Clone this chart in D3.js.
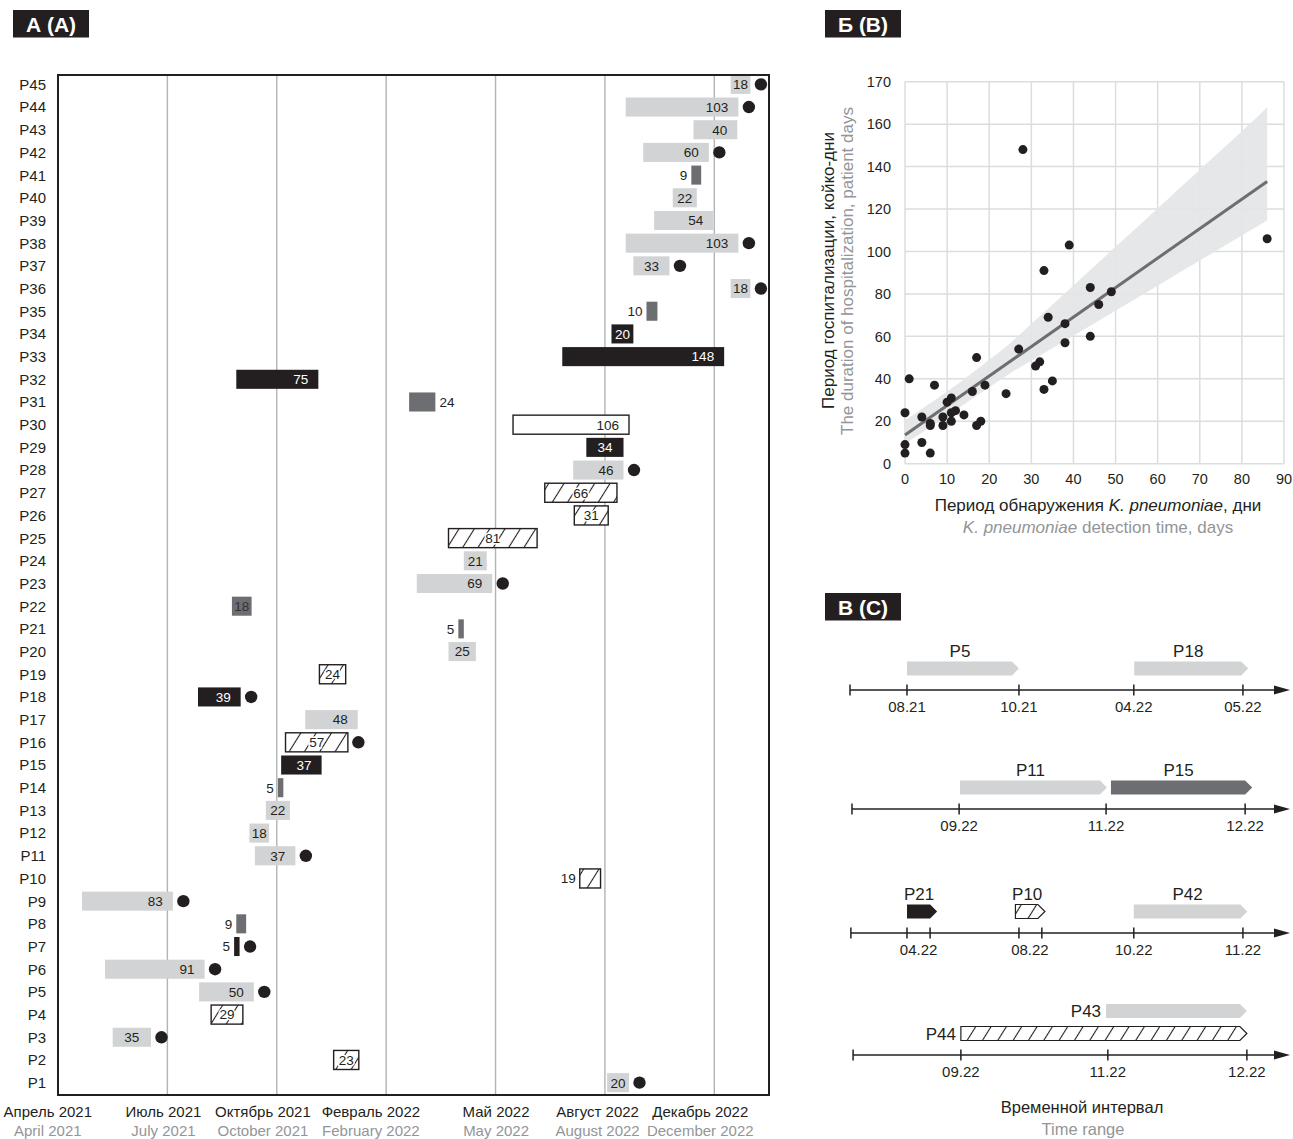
<!DOCTYPE html>
<html><head><meta charset="utf-8">
<script src="https://cdn.jsdelivr.net/npm/d3@7"></script>
<style>
body{margin:0;background:#fff;}
svg{display:block;font-family:"Liberation Sans",Arial,Helvetica,sans-serif;}
</style></head><body>
<svg id="chart" width="1293" height="1139"></svg>
<script>
// ---------- Panel A data ----------
const patients = d3.range(1, 46).map(i => "P" + i);
const startDay = [502,252,50,140,129,43,161,163,22,477,180,175,190,201,204,208,226,128,239,357,366,159,328,371,357,472,445,471,483,416,321,163,461,506,538,615,526,519,545,562,579,535,581,519,615];
const hospDays = [20,23,35,29,50,91,5,9,83,19,37,18,22,5,37,57,48,39,24,25,5,18,69,21,81,31,66,46,34,106,24,75,148,20,10,18,33,103,54,22,9,60,40,103,18];
const barType = ["light","hatch","light","hatch","light","light","black","dark","light","hatch","light","light","light","dark","black","hatch","light","black","hatch","light","dark","dark","light","light","hatch","hatch","hatch","light","black","white","dark","black","black","black","dark","light","light","light","light","light","dark","light","light","light","light"];
const died = [1,0,1,0,1,1,1,0,1,0,1,0,0,0,0,1,0,1,0,0,0,0,1,0,0,0,0,1,0,0,0,0,0,0,0,1,1,1,0,0,0,1,0,1,1];
const timeTickDays = [0,100,200,300,400,500,600];
const timeTickRu = ["Апрель 2021","Июль 2021","Октябрь 2021","Февраль 2022","Май 2022","Август 2022","Декабрь 2022"];
const timeTickEn = ["April 2021","July 2021","October 2021","February 2022","May 2022","August 2022","December 2022"];

// ---------- Panel B data ----------
const detectDays = [28,86,39,33,44,49,46,34,38,44,38,27,17,32,31,1,35,7,19,33,16,24,11,10,0,12,11,14,4,9,6,6,9,11,17,18,0,4,0,6];
const stayDays   = [148,106,103,91,83,81,75,69,66,60,57,54,50,48,46,40,39,37,37,35,34,33,31,29,24,25,24,23,22,22,19,18,18,20,18,20,9,10,5,5];
const fitX = [0,86];
const fitY = [13.5,133];
const bandX = [0,10,20,25,30,40,50,60,70,80,86];
const bandUpper = [20.5,34,49,56.8,65.9,84,102.2,120.3,138.5,156.6,168];
const bandLower = [9.5,22.5,36,42.6,48.5,60.3,72.1,83.9,95.7,107.5,114.6];
const scatterXTicks = [0,10,20,30,40,50,60,70,80,90];
const scatterYTicks = [0,20,40,60,80,100,120,140,160,180];
const scatterYTickLabels = ["0","20","40","60","80","100","120","140","160","170"];

// ---------- Panel C data (schematic time units 0..100) ----------
const cTicks = [[0,12.95,38.4,64.5,89.3],[0.45,24.8,58.2,89.8],[0.2,12.95,18.2,38.4,43.6,64.5,89.3],[0.7,25.2,58.6,90.2]];
const cTickLabels = [["08.21","10.21","04.22","05.22"],["09.22","11.22","12.22"],["04.22","08.22","10.22","11.22"],["09.22","11.22","12.22"]];
const cTickLabelPos = [[12.95,38.4,64.5,89.3],[24.8,58.2,89.8],[15.6,40.9,64.5,89.3],[25.2,58.6,90.2]];
const cBarPatient = ["P5","P18","P11","P15","P21","P10","P42","P44","P43"];
const cBarRow   = [0,0,1,1,2,2,2,3,3];
const cBarLane  = [0,0,0,0,0,0,0,0,1];
const cBarStart = [12.95,64.6,25,59.3,12.95,37.6,64.5,25.2,58.2];
const cBarEnd   = [38.4,90.5,58.4,91.4,19.8,44.3,90.3,90.2,90.2];
const cBarType  = ["light","light","light","dark","black","hatch","light","hatch","light"];

// ---------- styles ----------
const INK = "#231f20", GRAY = "#939598", LIGHT = "#d1d3d4", DARK = "#6d6e71";
const fillFor = {light: LIGHT, dark: DARK, black: INK, hatch: "url(#hatch)", white: "#fff"};
const outsideLeft = ["P7","P8","P10","P14","P21","P35","P41"];
const outsideRight = ["P31"];

const svg = d3.select("#chart");
const defs = svg.append("defs");
const pat = defs.append("pattern").attr("id","hatch").attr("patternUnits","userSpaceOnUse")
  .attr("width",13).attr("height",13).attr("patternTransform","rotate(32)");
pat.append("rect").attr("width",13).attr("height",13).attr("fill","#fff");
pat.append("line").attr("x1",6.5).attr("x2",6.5).attr("y1",-1).attr("y2",14).attr("stroke",INK).attr("stroke-width",1.1);

function titleBox(x, y, label) {
  svg.append("rect").attr("x",x).attr("y",y).attr("width",76).attr("height",27.5).attr("fill",INK);
  svg.append("text").attr("x",x+38).attr("y",y+22).attr("text-anchor","middle")
    .attr("fill","#fff").attr("font-weight","bold").attr("font-size",21).text(label);
}
titleBox(13,10,"А (A)");
titleBox(825,10,"Б (B)");
titleBox(825,593,"В (C)");

// ================= Panel A =================
const xA = d3.scaleLinear().domain([0,650]).range([58,769]);
const yA = d3.scaleBand().domain(patients.slice().reverse()).range([73,1094]).paddingInner(0.16).paddingOuter(0.08);
const gA = svg.append("g");
gA.append("g").selectAll("line").data(timeTickDays.slice(1)).join("line")
  .attr("x1",d=>xA(d)).attr("x2",d=>xA(d)).attr("y1",75).attr("y2",1095)
  .attr("stroke","#b1b3b6").attr("stroke-width",1.4);

const rows = patients.map((p,i)=>({p, s:startDay[i], d:hospDays[i], t:barType[i], died:died[i]}));
gA.append("g").selectAll("rect").data(rows).join("rect")
  .attr("x",r=>xA(r.s)).attr("y",r=>yA(r.p))
  .attr("width",r=>xA(r.s+r.d)-xA(r.s)).attr("height",yA.bandwidth())
  .attr("fill",r=>fillFor[r.t])
  .attr("stroke",r=>(r.t==="hatch"||r.t==="white")?INK:"none").attr("stroke-width",1.4);

gA.append("g").selectAll("circle").data(rows.filter(r=>r.died)).join("circle")
  .attr("cx",r=>xA(r.s+r.d)+10.5).attr("cy",r=>yA(r.p)+yA.bandwidth()/2).attr("r",6.2).attr("fill",INK);

const gLab = gA.append("g").attr("font-size",13.5);
rows.forEach(r=>{
  const x0 = xA(r.s), x1 = xA(r.s+r.d), cy = yA(r.p)+yA.bandwidth()/2;
  const t = gLab.append("text").attr("y",cy).attr("dy","0.36em").text(r.d);
  if (outsideLeft.includes(r.p)) {
    t.attr("x",x0-4).attr("text-anchor","end").attr("fill",INK);
  } else if (outsideRight.includes(r.p)) {
    t.attr("x",x1+4).attr("text-anchor","start").attr("fill",INK);
  } else if (r.t==="hatch") {
    t.attr("x",(x0+x1)/2).attr("text-anchor","middle").attr("fill",INK)
     .attr("stroke","#fff").attr("stroke-width",3).attr("paint-order","stroke");
  } else {
    const tw = t.node().getComputedTextLength();
    if (x1-x0 > tw+24) t.attr("x",x1-10).attr("text-anchor","end");
    else t.attr("x",(x0+x1)/2).attr("text-anchor","middle");
    t.attr("fill", r.t==="black" ? "#fff" : (r.t==="dark" ? "#333" : INK));
  }
});

gA.append("rect").attr("x",58).attr("y",75).attr("width",711).attr("height",1020)
  .attr("fill","none").attr("stroke",INK).attr("stroke-width",2);

gA.append("g").selectAll("text").data(patients).join("text")
  .attr("x",46).attr("y",d=>yA(d)+yA.bandwidth()/2).attr("dy","0.36em")
  .attr("text-anchor","end").attr("font-size",15).attr("fill",INK).text(d=>d);

timeTickDays.forEach((d,i)=>{
  const ru = gA.append("text").attr("x",xA(d)+34).attr("y",1117).attr("text-anchor","end")
    .attr("font-size",15).attr("fill",INK).text(timeTickRu[i]);
  const w = ru.node().getComputedTextLength();
  gA.append("text").attr("x",xA(d)+34-w/2).attr("y",1136).attr("text-anchor","middle")
    .attr("font-size",15).attr("fill",GRAY).text(timeTickEn[i]);
});

// ================= Panel B =================
const xB = d3.scaleLinear().domain([0,90]).range([905,1284]);
const yB = d3.scaleLinear().domain([0,180]).range([463.7,81.7]);
const gB = svg.append("g");
gB.append("g").selectAll("line").data(scatterXTicks).join("line")
  .attr("x1",d=>xB(d)).attr("x2",d=>xB(d)).attr("y1",yB(0)).attr("y2",yB(180))
  .attr("stroke","#dcddde").attr("stroke-width",1.5);
gB.append("g").selectAll("line").data(scatterYTicks).join("line")
  .attr("y1",d=>yB(d)).attr("y2",d=>yB(d)).attr("x1",xB(0)).attr("x2",xB(90))
  .attr("stroke","#dcddde").attr("stroke-width",1.5);

const band = bandX.map((x,i)=>({x, lo:bandLower[i], hi:bandUpper[i]}));
gB.append("path").datum(band)
  .attr("d", d3.area().x(d=>xB(d.x)).y0(d=>yB(d.lo)).y1(d=>yB(d.hi)).curve(d3.curveMonotoneX))
  .attr("fill","#e4e5e6").attr("opacity",0.92);
gB.append("path").datum(fitX.map((x,i)=>[x,fitY[i]]))
  .attr("d", d3.line().x(d=>xB(d[0])).y(d=>yB(d[1])))
  .attr("stroke",DARK).attr("stroke-width",3).attr("fill","none");
gB.append("g").selectAll("circle").data(detectDays.map((x,i)=>[x,stayDays[i]])).join("circle")
  .attr("cx",d=>xB(d[0])).attr("cy",d=>yB(d[1])).attr("r",4.5).attr("fill",INK);

gB.append("g").selectAll("text").data(scatterXTicks).join("text")
  .attr("x",d=>xB(d)).attr("y",484).attr("text-anchor","middle").attr("font-size",14.5).attr("fill",INK).text(d=>d);
gB.append("g").selectAll("text").data(scatterYTicks).join("text")
  .attr("x",891).attr("y",d=>yB(d)).attr("dy","0.36em").attr("text-anchor","end")
  .attr("font-size",14.5).attr("fill",INK).text((d,i)=>scatterYTickLabels[i]);

const xt1 = gB.append("text").attr("x",1098).attr("y",511).attr("text-anchor","middle").attr("font-size",17).attr("fill",INK);
xt1.append("tspan").text("Период обнаружения ");
xt1.append("tspan").attr("font-style","italic").text("K. pneumoniae");
xt1.append("tspan").text(", дни");
const xt2 = gB.append("text").attr("x",1098).attr("y",533).attr("text-anchor","middle").attr("font-size",17).attr("fill",GRAY);
xt2.append("tspan").attr("font-style","italic").text("K. pneumoniae");
xt2.append("tspan").text(" detection time, days");
gB.append("text").attr("transform","translate(834,270.5) rotate(-90)").attr("text-anchor","middle")
  .attr("font-size",17).attr("fill",INK).text("Период госпитализации, койко-дни");
gB.append("text").attr("transform","translate(853,271) rotate(-90)").attr("text-anchor","middle")
  .attr("font-size",17).attr("fill",GRAY).text("The duration of hospitalization, patient days");

// ================= Panel C =================
const xC = d3.scaleLinear().domain([0,100]).range([850,1290]);
const axisY = [690, 809, 933, 1055];
const gC = svg.append("g");
cTicks.forEach((ticks,r)=>{
  const y = axisY[r];
  gC.append("line").attr("x1",xC(ticks[0])).attr("x2",xC(100)-12).attr("y1",y).attr("y2",y)
    .attr("stroke",INK).attr("stroke-width",1.5);
  gC.append("path").attr("d",`M${xC(100)},${y} L${xC(100)-16},${y-4.5} L${xC(100)-16},${y+4.5} Z`).attr("fill",INK);
  gC.append("g").selectAll("line").data(ticks).join("line")
    .attr("x1",d=>xC(d)).attr("x2",d=>xC(d)).attr("y1",y-5.5).attr("y2",y+5.5)
    .attr("stroke",INK).attr("stroke-width",1.5);
  gC.append("g").selectAll("text").data(cTickLabels[r]).join("text")
    .attr("x",(d,i)=>xC(cTickLabelPos[r][i])).attr("y",y+22).attr("text-anchor","middle")
    .attr("font-size",15).attr("fill",INK).text(d=>d);
});
cBarPatient.forEach((p,i)=>{
  const r = cBarRow[i];
  const cy = axisY[r] - (cBarLane[i] ? 44 : 21.5);
  const h = 14, tip = 7;
  const x0 = xC(cBarStart[i]), x1 = xC(cBarEnd[i]);
  const t = cBarType[i];
  gC.append("path")
    .attr("d",`M${x0},${cy-h/2} L${x1-tip},${cy-h/2} L${x1},${cy} L${x1-tip},${cy+h/2} L${x0},${cy+h/2} Z`)
    .attr("fill",fillFor[t]).attr("stroke",t==="hatch"?INK:"none").attr("stroke-width",1.2);
  if (r===3) {
    gC.append("text").attr("x",x0-5).attr("y",cy+6).attr("text-anchor","end")
      .attr("font-size",17).attr("fill",INK).text(p);
  } else {
    gC.append("text").attr("x",(x0+x1)/2-3).attr("y",cy-h/2-5).attr("text-anchor","middle")
      .attr("font-size",17).attr("fill",INK).text(p);
  }
});
gC.append("text").attr("x",1082).attr("y",1113).attr("text-anchor","middle").attr("font-size",16.5).attr("fill",INK).text("Временной интервал");
gC.append("text").attr("x",1083).attr("y",1135).attr("text-anchor","middle").attr("font-size",16.5).attr("fill",GRAY).text("Time range");
</script>
</body></html>
